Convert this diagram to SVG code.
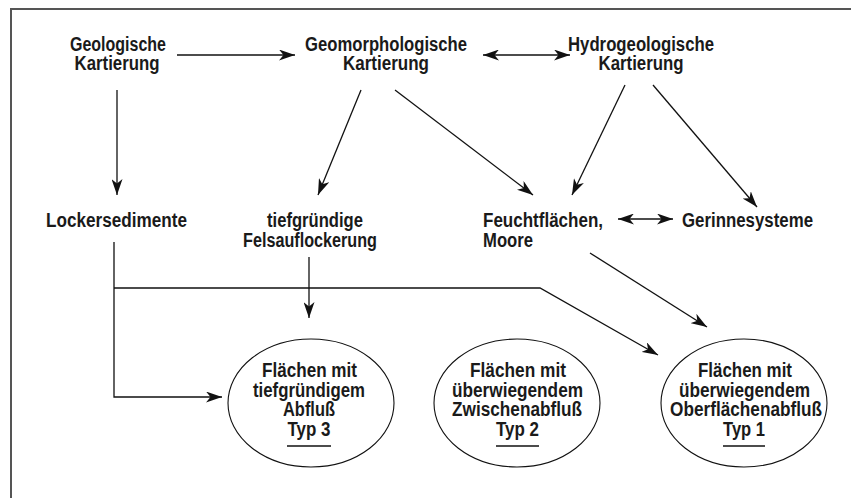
<svg xmlns="http://www.w3.org/2000/svg" width="851" height="498" viewBox="0 0 851 498">
<defs>
<style>
text{font-family:"Liberation Sans",Arial,sans-serif;font-size:19.5px;font-weight:bold;fill:#1a1a1a}
.m{text-anchor:middle}
.c{fill:none;stroke:#111;stroke-width:1.3}
.e{fill:#fff;stroke:#111;stroke-width:1.1}
.u{stroke:#111;stroke-width:1.3}
</style>
<marker id="ah" viewBox="0 0 16 11" refX="16" refY="5.5" markerWidth="16" markerHeight="11" markerUnits="userSpaceOnUse" orient="auto-start-reverse">
<path d="M0,0 L16,5.5 L0,11 L4.5,5.5 Z" fill="#111"/>
</marker>
</defs>
<rect width="851" height="498" fill="#fff"/>
<path d="M11,498 V9 H851" fill="none" stroke="#555" stroke-width="2"/>
<g id="connectors">
<line class="c" x1="177" y1="55" x2="295" y2="55" marker-end="url(#ah)"/>
<line class="c" x1="483" y1="55" x2="570" y2="55" marker-start="url(#ah)" marker-end="url(#ah)"/>
<line class="c" x1="117" y1="90" x2="117" y2="195" marker-end="url(#ah)"/>
<line class="c" x1="361" y1="90" x2="318" y2="195" marker-end="url(#ah)"/>
<line class="c" x1="395" y1="90" x2="533" y2="195" marker-end="url(#ah)"/>
<line class="c" x1="625" y1="85" x2="572" y2="195" marker-end="url(#ah)"/>
<line class="c" x1="653" y1="85" x2="757" y2="207" marker-end="url(#ah)"/>
<line class="c" x1="618" y1="219" x2="673" y2="219" marker-start="url(#ah)" marker-end="url(#ah)"/>
<polyline class="c" points="114,242 114,397 222,397" marker-end="url(#ah)"/>
<polyline class="c" points="114,288 540,288 658,355" marker-end="url(#ah)"/>
<line class="c" x1="309" y1="257" x2="309" y2="318" marker-end="url(#ah)"/>
<line class="c" x1="590" y1="253" x2="707" y2="327" marker-end="url(#ah)"/>
</g>
<g id="geologische">
<text class="m" x="118" y="51" textLength="96" lengthAdjust="spacingAndGlyphs">Geologische</text>
<text class="m" x="117" y="70" textLength="85" lengthAdjust="spacingAndGlyphs">Kartierung</text>
</g>
<g id="geomorphologische">
<text class="m" x="386" y="51" textLength="162" lengthAdjust="spacingAndGlyphs">Geomorphologische</text>
<text class="m" x="386" y="70" textLength="86" lengthAdjust="spacingAndGlyphs">Kartierung</text>
</g>
<g id="hydrogeologische">
<text class="m" x="641" y="51" textLength="146" lengthAdjust="spacingAndGlyphs">Hydrogeologische</text>
<text class="m" x="641" y="70" textLength="85" lengthAdjust="spacingAndGlyphs">Kartierung</text>
</g>
<g id="lockersedimente">
<text class="m" x="116.5" y="227" textLength="141" lengthAdjust="spacingAndGlyphs">Lockersedimente</text>
</g>
<g id="felsauflockerung">
<text class="m" x="315" y="227" textLength="96" lengthAdjust="spacingAndGlyphs">tiefgründige</text>
<text class="m" x="310" y="247" textLength="134" lengthAdjust="spacingAndGlyphs">Felsauflockerung</text>
</g>
<g id="feuchtflaechen">
<text x="483" y="227" textLength="120" lengthAdjust="spacingAndGlyphs">Feuchtflächen,</text>
<text x="483" y="247" textLength="50" lengthAdjust="spacingAndGlyphs">Moore</text>
</g>
<g id="gerinnesysteme">
<text x="682" y="227" textLength="131" lengthAdjust="spacingAndGlyphs">Gerinnesysteme</text>
</g>
<g id="typ3">
<ellipse class="e" cx="311" cy="403" rx="83" ry="64"/>
<text class="m" x="309.5" y="377" textLength="95" lengthAdjust="spacingAndGlyphs">Flächen mit</text>
<text class="m" x="309" y="397" textLength="112" lengthAdjust="spacingAndGlyphs">tiefgründigem</text>
<text class="m" x="309" y="416" textLength="52" lengthAdjust="spacingAndGlyphs">Abfluß</text>
<text class="m" x="309" y="436" textLength="43" lengthAdjust="spacingAndGlyphs">Typ 3</text>
<line class="u" x1="287" y1="446" x2="331" y2="446"/>
</g>
<g id="typ2">
<ellipse class="e" cx="517" cy="403" rx="83" ry="64"/>
<text class="m" x="518" y="377" textLength="96" lengthAdjust="spacingAndGlyphs">Flächen mit</text>
<text class="m" x="517.5" y="397" textLength="131" lengthAdjust="spacingAndGlyphs">überwiegendem</text>
<text class="m" x="517" y="416" textLength="130" lengthAdjust="spacingAndGlyphs">Zwischenabfluß</text>
<text class="m" x="517.5" y="436" textLength="43" lengthAdjust="spacingAndGlyphs">Typ 2</text>
<line class="u" x1="496" y1="446" x2="539" y2="446"/>
</g>
<g id="typ1">
<ellipse class="e" cx="744" cy="403" rx="83" ry="64"/>
<text class="m" x="745" y="377" textLength="94" lengthAdjust="spacingAndGlyphs">Flächen mit</text>
<text class="m" x="744.5" y="397" textLength="131" lengthAdjust="spacingAndGlyphs">überwiegendem</text>
<text class="m" x="746" y="416" textLength="152" lengthAdjust="spacingAndGlyphs">Oberflächenabfluß</text>
<text class="m" x="744" y="436" textLength="42" lengthAdjust="spacingAndGlyphs">Typ 1</text>
<line class="u" x1="723" y1="446" x2="765" y2="446"/>
</g>
</svg>
